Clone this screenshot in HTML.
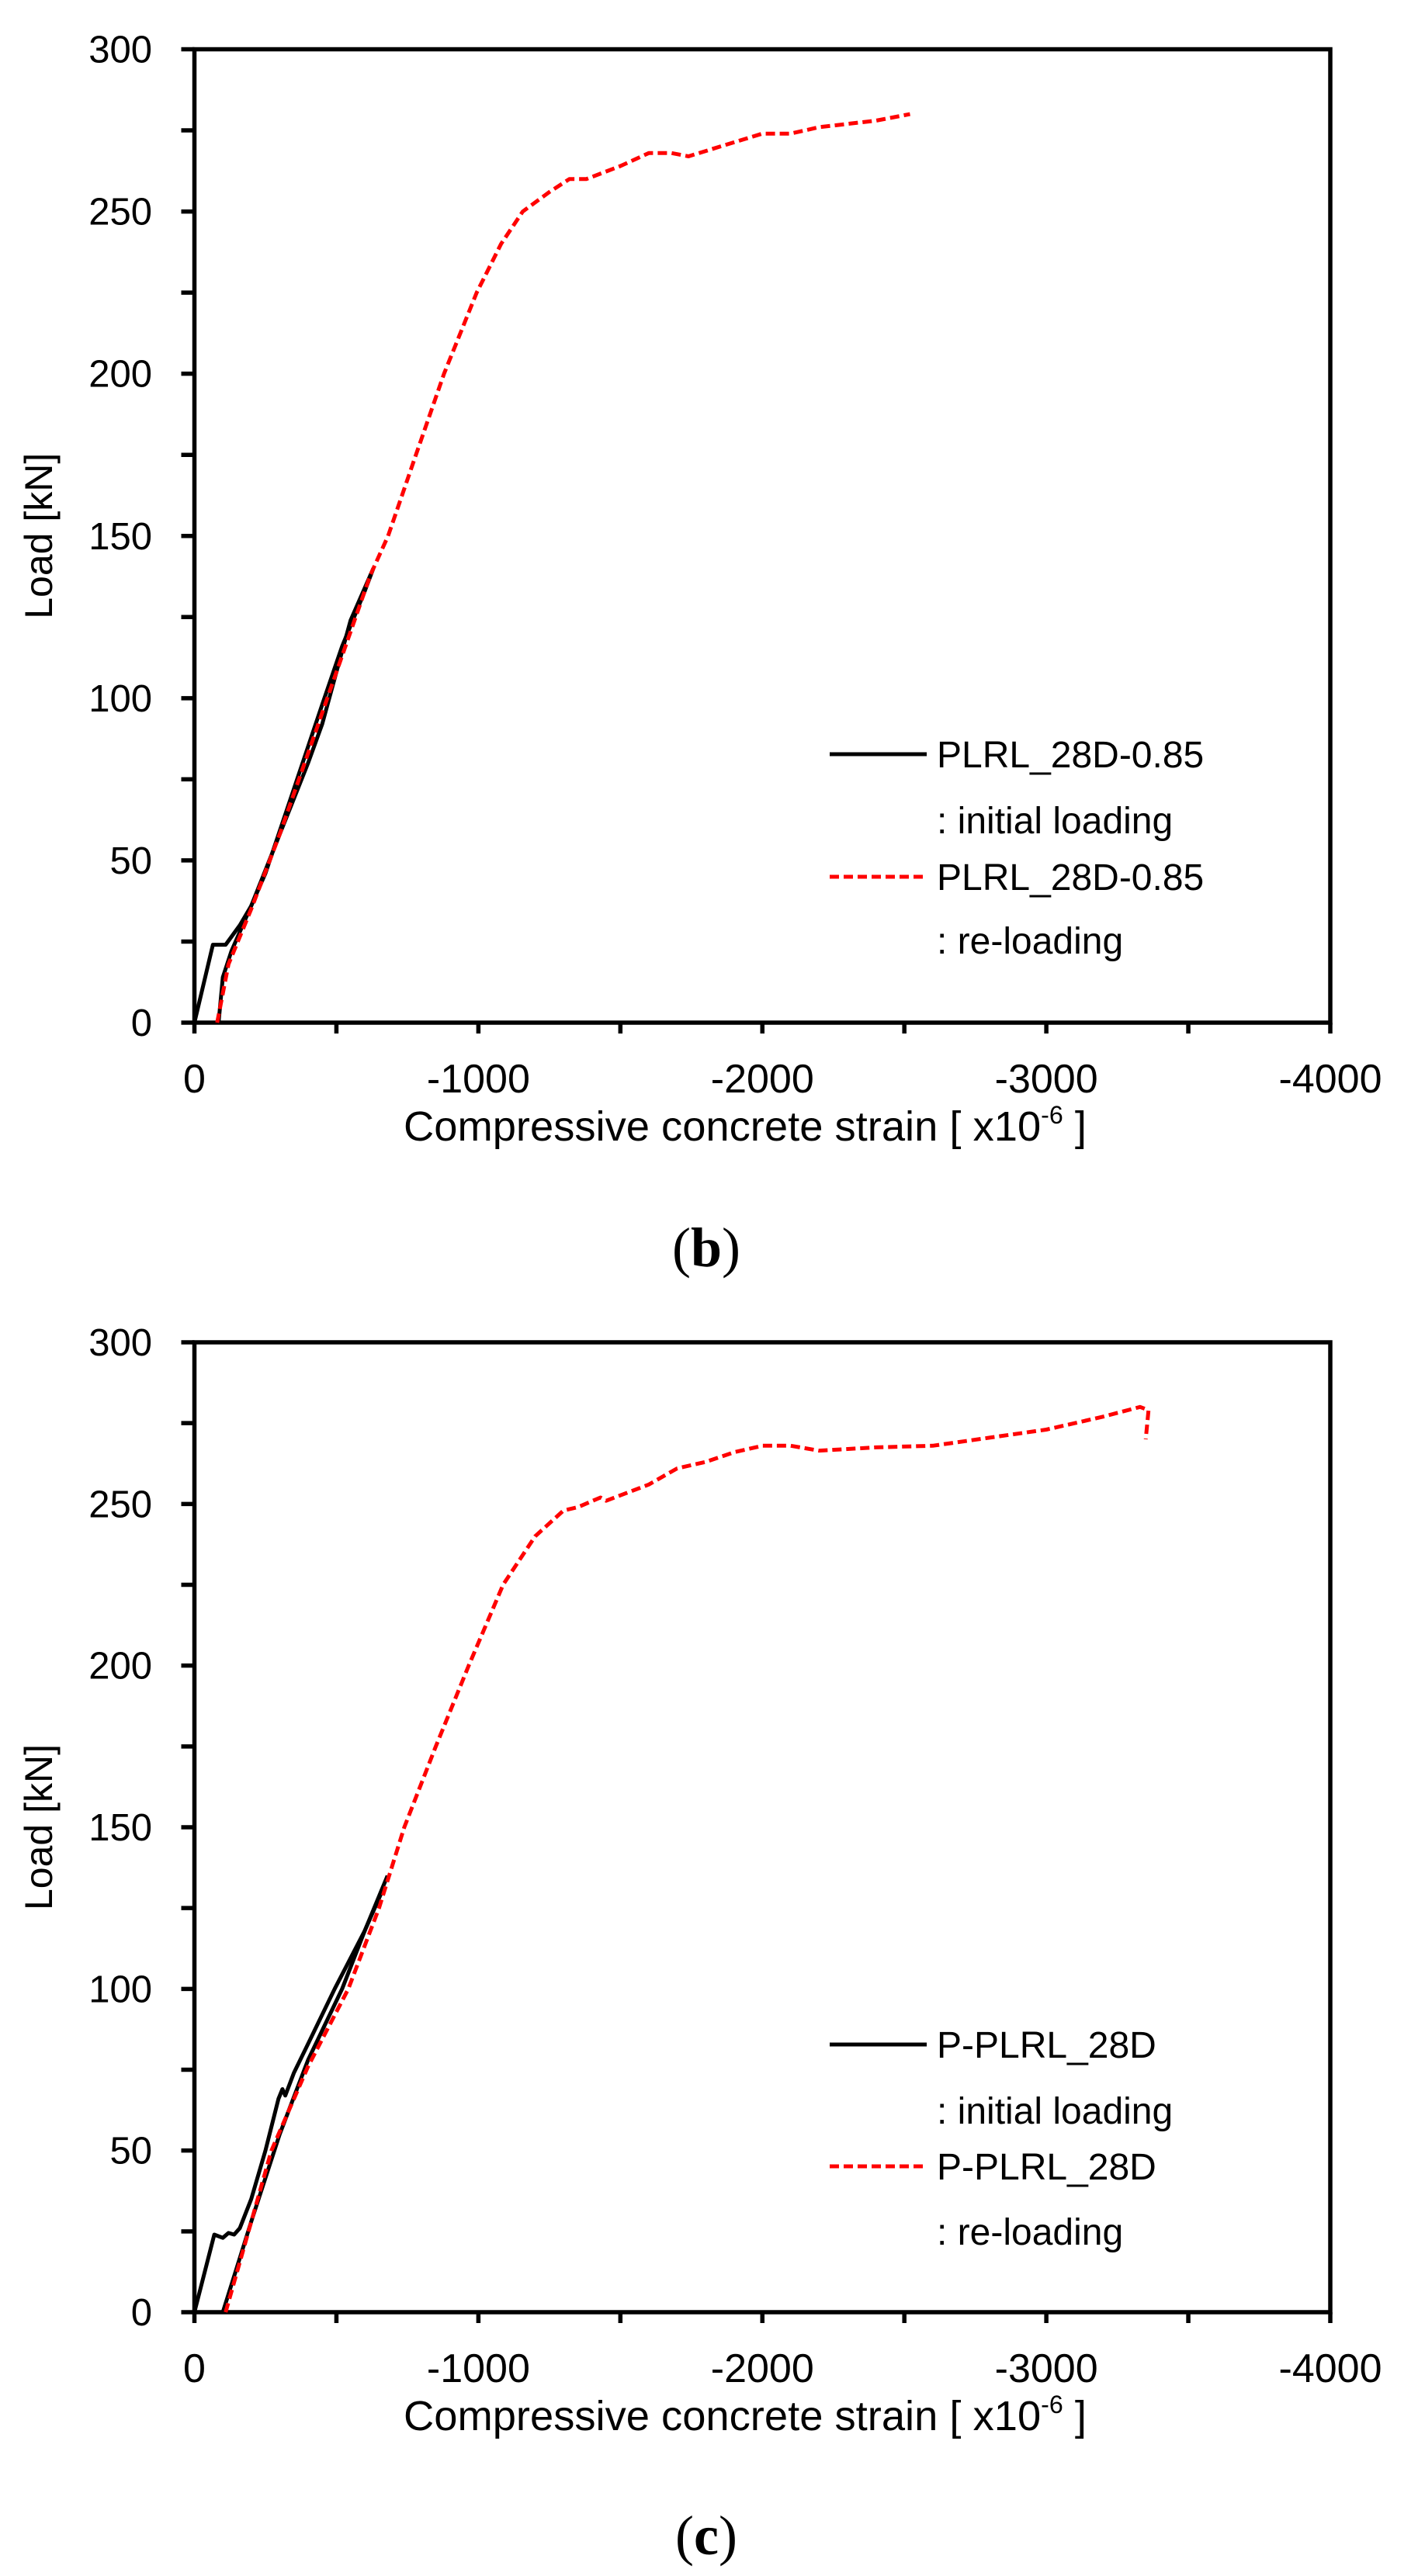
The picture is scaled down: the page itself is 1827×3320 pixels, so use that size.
<!DOCTYPE html>
<html><head><meta charset="utf-8"><style>
html,body{margin:0;padding:0;background:#fff;}
svg{display:block;}
text{font-family:"Liberation Sans",sans-serif;fill:#000;}
.s{font-family:"Liberation Serif",serif;}
</style></head><body>
<svg id="c" width="1827" height="3320" viewBox="0 0 1827 3320" xmlns="http://www.w3.org/2000/svg"></svg>
<script>
const svg=document.getElementById('c');let h='';
function plot(top,bot,legendY,name,black1,black2,red,cap,capY){
 const L=250.5,R=1714,W=R-L,H=bot-top;
 const X=s=>L+s/4000*W,Y=v=>bot-v/300*H;
 h+=`<rect x="${L}" y="${top}" width="${W}" height="${H}" fill="none" stroke="#000" stroke-width="5.5"/>`;
 for(let v=0;v<=300;v+=25){h+=`<line x1="${L-17}" x2="${L}" y1="${Y(v)}" y2="${Y(v)}" stroke="#000" stroke-width="5.5"/>`;
  if(v%50==0)h+=`<text x="196" y="${Y(v)+17}" font-size="49" text-anchor="end">${v}</text>`;}
 for(let s=0;s<=4000;s+=500){h+=`<line x1="${X(s)}" x2="${X(s)}" y1="${bot}" y2="${bot+14}" stroke="#000" stroke-width="5.5"/>`;
  if(s%1000==0)h+=`<text x="${X(s)}" y="${bot+90}" font-size="52" text-anchor="middle">${s?'-'+s:0}</text>`;}
 h+=`<text x="520" y="${bot+152}" font-size="54" textLength="880" lengthAdjust="spacingAndGlyphs">Compressive concrete strain [ x10<tspan dy="-22" font-size="32">-6</tspan><tspan dy="22"> ]</tspan></text>`;
 h+=`<text transform="translate(67,${(top+bot)/2}) rotate(-90)" font-size="50" text-anchor="middle">Load [kN]</text>`;
 const pl=(pts,st)=>`<polyline fill="none" stroke-linejoin="round" ${st} points="${pts.map(p=>X(p[0]).toFixed(1)+','+Y(p[1]).toFixed(1)).join(' ')}"/>`;
 h+=pl(black1,'stroke="#000" stroke-width="5"');h+=pl(black2,'stroke="#000" stroke-width="5"');
 h+=pl(red,'stroke="#f00" stroke-width="5" stroke-dasharray="12 6"');
 const [a,b,c,d]=legendY;
 h+=`<line x1="1069" x2="1194" y1="${a}" y2="${a}" stroke="#000" stroke-width="5"/>`;
 h+=`<line x1="1069" x2="1194" y1="${c}" y2="${c}" stroke="#f00" stroke-width="5" stroke-dasharray="12 6"/>`;
 h+=`<text x="1207" y="${a+17}" font-size="48">${name}</text><text x="1207" y="${b+17}" font-size="48">: initial loading</text>`;
 h+=`<text x="1207" y="${c+17}" font-size="48">${name}</text><text x="1207" y="${d+17}" font-size="48">: re-loading</text>`;
 h+=`<text class="s" x="910" y="${capY}" font-size="72" text-anchor="middle">(<tspan font-weight="bold">${cap}</tspan>)</text>`;
}
plot(63.5,1318,[972,1057,1130,1212],'PLRL_28D-0.85',
 [[0,0],[65,24],[110,24],[160,30],[200,36],[300,58],[400,80],[450,92],[500,108],[550,124],[630,140]],
 [[85,0],[100,14],[130,22],[170,30],[250,46],[350,72],[450,98],[520,116],[600,133],[630,140]],
 [[80,0],[120,18],[200,35],[300,58],[400,83],[500,108],[620,138],[682,150],[780,175],[879,200],[994,225],[1080,240],[1156,250],[1250,256],[1320,260],[1380,260],[1500,264],[1600,268],[1680,268],[1740,267],[1850,270],[2000,274],[2100,274],[2200,276],[2300,277],[2400,278],[2520,280]],
 'b',1632);
plot(1730,2980,[2635,2720,2792,2876],'P-PLRL_28D',
 [[0,0],[70,24],[100,23],[120,24.5],[140,24],[160,26],[200,35],[250,50],[296,66],[310,69],[320,67],[350,74],[400,83],[494,100],[600,118],[680,135]],
 [[100,0],[200,28],[300,55],[400,78],[520,100],[600,118],[660,130]],
 [[110,0],[271,50],[400,76],[542,100],[650,125],[739,150],[850,175],[966,200],[1087,225],[1200,240],[1300,248],[1350,249],[1430,252],[1450,251],[1600,256],[1700,261],[1750,262],[1800,263],[1900,266],[2000,268],[2100,268],[2200,266.5],[2400,267.5],[2600,268],[2800,270.5],[3000,273],[3100,275],[3200,277],[3330,280],[3360,279],[3350,270]],
 'c',3292);
svg.innerHTML=h;
</script>
</body></html>
